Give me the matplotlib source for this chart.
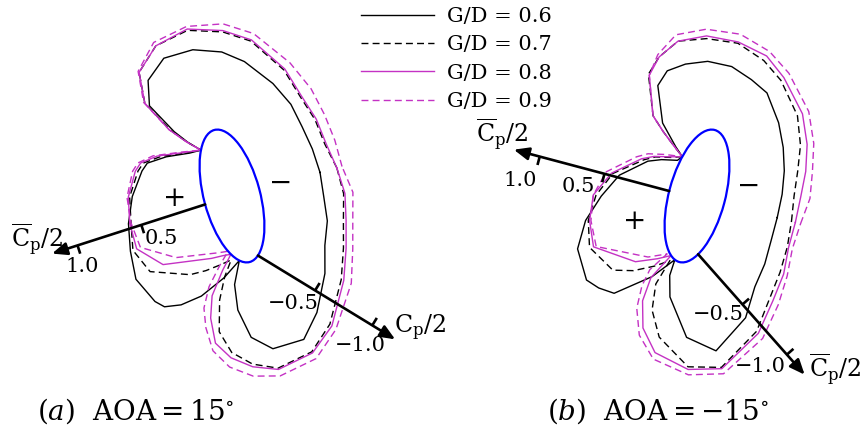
import numpy as np
import matplotlib.pyplot as plt
from matplotlib.patches import Ellipse

plt.rcParams['font.family'] = 'DejaVu Serif'
plt.rcParams['mathtext.fontset'] = 'dejavuserif'

# position around the ellipse (parametric angle, deg) and Cp/2
theta_a = [0, 15, 30, 45, 60, 75, 82.5, 90, 97.5, 105, 112.5, 120, 125, 130, 135, 140, 145, 150,
           165, 180, 195, 210, 225, 230, 235, 240, 245, 250, 255, 260, 265, 270, 277.5, 285,
           300, 315, 330, 345]
cp_a_06 = [-0.47, -0.47, -0.47, -0.49, -0.50, -0.54, -0.58, -0.62, -0.65, -0.60, -0.48, -0.23,
           -0.11, 0.00, 0.08, 0.25, 0.39, 0.43, 0.52, 0.59, 0.64, 0.69, 0.66, 0.63, 0.53, 0.38,
           0.17, 0.00, -0.18, -0.36, -0.56, -0.67, -0.70, -0.61, -0.51, -0.46, -0.47, -0.46]
cp_a_07 = [-0.60, -0.57, -0.58, -0.58, -0.63, -0.70, -0.73, -0.77, -0.76, -0.69, -0.52, -0.26,
           -0.12, 0.00, 0.10, 0.29, 0.42, 0.46, 0.54, 0.57, 0.62, 0.57, 0.33, 0.22, 0.11, 0.03,
           -0.16, -0.33, -0.55, -0.68, -0.76, -0.82, -0.81, -0.74, -0.64, -0.60, -0.59, -0.61]
cp_a_08 = [-0.60, -0.58, -0.59, -0.59, -0.64, -0.71, -0.74, -0.78, -0.76, -0.69, -0.52, -0.27,
           -0.12, 0.00, 0.12, 0.32, 0.44, 0.48, 0.55, 0.58, 0.59, 0.46, 0.13, 0.05, 0.00, -0.13,
           -0.33, -0.48, -0.64, -0.72, -0.78, -0.83, -0.82, -0.76, -0.66, -0.62, -0.61, -0.62]
cp_a_09 = [-0.64, -0.65, -0.66, -0.68, -0.70, -0.76, -0.79, -0.80, -0.79, -0.70, -0.53, -0.27,
           -0.12, 0.00, 0.14, 0.35, 0.46, 0.50, 0.56, 0.57, 0.56, 0.35, 0.06, 0.00, -0.12, -0.29,
           -0.44, -0.56, -0.70, -0.79, -0.85, -0.88, -0.87, -0.80, -0.72, -0.67, -0.66, -0.68]

theta_b = [0, 15, 30, 45, 60, 75, 82.5, 90, 97.5, 105, 112.5, 120, 135, 140, 145, 150, 155, 160,
           165, 180, 195, 210, 225, 240, 245, 250, 255, 260, 265, 270, 277.5, 285, 300, 315,
           330, 345]
cp_b_06 = [-0.41, -0.41, -0.41, -0.41, -0.42, -0.46, -0.46, -0.49, -0.51, -0.52, -0.53, -0.48,
           -0.26, -0.16, -0.08, 0.00, 0.02, 0.13, 0.22, 0.39, 0.49, 0.59, 0.66, 0.65, 0.59, 0.51,
           0.21, 0.00, -0.12, -0.27, -0.56, -0.70, -0.59, -0.48, -0.45, -0.42]
cp_b_07 = [-0.52, -0.50, -0.51, -0.54, -0.57, -0.60, -0.63, -0.67, -0.68, -0.70, -0.65, -0.59,
           -0.35, -0.22, -0.10, 0.00, 0.07, 0.18, 0.25, 0.44, 0.53, 0.57, 0.57, 0.44, 0.30, 0.14,
           -0.03, -0.23, -0.41, -0.58, -0.78, -0.83, -0.72, -0.62, -0.58, -0.55]
cp_b_08 = [-0.55, -0.55, -0.57, -0.59, -0.61, -0.63, -0.67, -0.68, -0.70, -0.70, -0.65, -0.58,
           -0.35, -0.22, -0.10, 0.00, 0.08, 0.19, 0.27, 0.45, 0.55, 0.56, 0.54, 0.26, 0.10, 0.00,
           -0.22, -0.39, -0.56, -0.70, -0.80, -0.84, -0.74, -0.65, -0.61, -0.56]
cp_b_09 = [-0.59, -0.62, -0.62, -0.64, -0.66, -0.68, -0.71, -0.74, -0.75, -0.75, -0.67, -0.58,
           -0.35, -0.22, -0.10, 0.00, 0.12, 0.24, 0.31, 0.49, 0.55, 0.55, 0.52, 0.16, 0.02, -0.19,
           -0.31, -0.46, -0.62, -0.75, -0.84, -0.88, -0.79, -0.70, -0.64, -0.59]

gap_labels = ['G/D = 0.6', 'G/D = 0.7', 'G/D = 0.8', 'G/D = 0.9']
aoa = [15, -15]

A, B = 0.51, 0.21          # ellipse semi axes
K = 134.0                  # pixels per unit of Cp/2
MAG = '#c432c4'
DASH = (0, (5, 3))
styles = [dict(color='k', ls='-'), dict(color='k', ls=DASH),
          dict(color=MAG, ls='-'), dict(color=MAG, ls=DASH)]


def surface(theta, c, tilt):
    t = np.radians(np.asarray(theta, dtype=float))
    r = np.radians(tilt)
    bx, by = B * np.cos(t), A * np.sin(t)
    nx, ny = np.cos(t) / B, np.sin(t) / A
    x = c[0] + bx * np.cos(r) - by * np.sin(r)
    y = c[1] + bx * np.sin(r) + by * np.cos(r)
    gx = nx * np.cos(r) - ny * np.sin(r)
    gy = nx * np.sin(r) + ny * np.cos(r)
    g = np.hypot(gx, gy)
    return x, y, gx / g, gy / g


def axis_arrow(ax, c, tilt, th0, ang, ticks, labels, label_pos):
    x0, y0, _, _ = surface([th0], c, tilt)
    x0, y0 = x0[0], y0[0]
    u = np.array([np.cos(np.radians(ang)), np.sin(np.radians(ang))])
    p = np.array([-u[1], u[0]])
    L = 1.2
    ax.annotate('', xy=(x0 + L * u[0], y0 + L * u[1]), xytext=(x0, y0),
                arrowprops=dict(arrowstyle='-|>,head_length=0.9,head_width=0.38',
                                color='k', lw=1.9, mutation_scale=10, shrinkA=0, shrinkB=0),
                zorder=5)
    for t, lab, lp in zip(ticks, labels, label_pos):
        q = np.array([x0, y0]) + t * u
        ax.plot([q[0], q[0] + 0.065 * p[0]], [q[1], q[1] + 0.065 * p[1]], color='k', lw=1.9,
                solid_capstyle='butt', zorder=5)
        ax.text(lp[0], lp[1], lab, fontsize=15, ha='center', va='center')


fig = plt.figure(figsize=(8.64, 4.38), dpi=100)
ax = fig.add_axes([0, 0, 1, 1])
ax.set_xlim(0, 864 / K)
ax.set_ylim(0, 438 / K)
ax.axis('off')

centers = [(232 / K, 242 / K), (697 / K, 242 / K)]
panels = [(theta_a, [cp_a_06, cp_a_07, cp_a_08, cp_a_09]),
          (theta_b, [cp_b_06, cp_b_07, cp_b_08, cp_b_09])]

handles = []
for k, (th, series) in enumerate(panels):
    c, tilt = centers[k], aoa[k]
    x, y, nx, ny = surface(th, c, tilt)
    for j, cp in enumerate(series):
        d = np.abs(np.asarray(cp))  # |Cp/2| drawn along the outward normal
        cx = np.append(x + d * nx, x[0] + d[0] * nx[0])
        cy = np.append(y + d * ny, y[0] + d[0] * ny[0])
        ln, = ax.plot(cx, cy, lw=1.0, **styles[j])
        if k == 0:
            handles.append(ln)
    ax.add_patch(Ellipse(c, 2 * B, 2 * A, angle=tilt, fill=False, ec='#0000ff', lw=1.6, zorder=4))

cbar = r'$\overline{\mathrm{C}}_{\mathrm{p}}/2$'
cpl = r'$\mathrm{C}_{\mathrm{p}}/2$'

# panel (a)
axis_arrow(ax, centers[0], 15, 181, 197.8, [0.5, 1.0], ['0.5', '1.0'],
           [(1.207, 1.490), (0.610, 1.278)])
axis_arrow(ax, centers[0], 15, 290, -31.4, [0.5, 1.0], ['\u22120.5', '\u22121.0'],
           [(2.189, 1.005), (2.687, 0.694)])
ax.text(0.276, 1.478, cbar, fontsize=17, ha='center', va='center')
ax.text(3.134, 0.819, cpl, fontsize=17, ha='center', va='center')
ax.text(1.306, 1.791, '+', fontsize=20, ha='center', va='center')
ax.text(2.097, 1.903, '\u2212', fontsize=20, ha='center', va='center')
ax.text(1.015, 0.201, r'$(\mathit{a})\ \ \mathrm{AOA} = 15^{\circ}$', fontsize=20,
        ha='center', va='center')

# panel (b)
axis_arrow(ax, centers[1], -15, 182, 165.1, [0.5, 1.0], ['0.5', '1.0'],
           [(4.319, 1.875), (3.883, 1.925)])
axis_arrow(ax, centers[1], -15, 305, -48.5, [0.5, 1.0], ['\u22120.5', '\u22121.0'],
           [(5.363, 0.918), (5.674, 0.532)])
ax.text(3.746, 2.261, cbar, fontsize=17, ha='center', va='center')
ax.text(6.234, 0.507, cbar, fontsize=17, ha='center', va='center')
ax.text(4.739, 1.614, '+', fontsize=20, ha='center', va='center')
ax.text(5.590, 1.875, '\u2212', fontsize=20, ha='center', va='center')
ax.text(4.910, 0.201, r'$(\mathit{b})\ \ \mathrm{AOA} = -15^{\circ}$', fontsize=20,
        ha='center', va='center')

ax.legend(handles, gap_labels, loc='upper left', bbox_to_anchor=(0.418, 0.984),
          frameon=False, fontsize=15, handlelength=3.5, handletextpad=0.6,
          labelspacing=0.45, borderpad=0, borderaxespad=0)

fig.savefig('out.png', dpi=100)
